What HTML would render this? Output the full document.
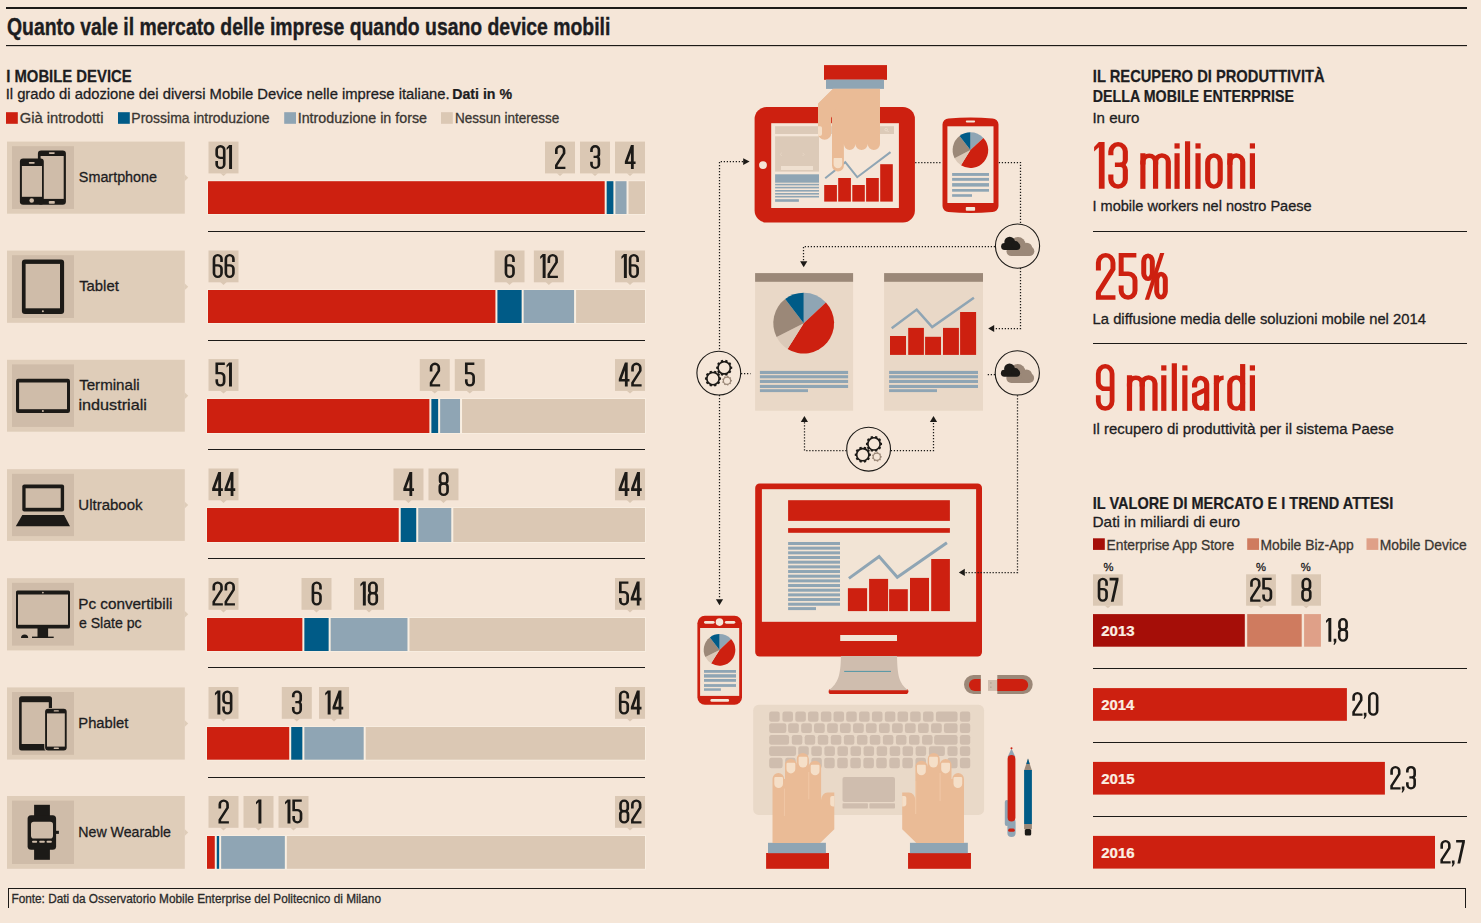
<!DOCTYPE html>
<html><head><meta charset="utf-8"><title>Quanto vale il mercato delle imprese quando usano device mobili</title>
<style>
html,body{margin:0;padding:0;background:#f5e6d8;}
body{width:1481px;height:923px;overflow:hidden;}
svg{display:block;font-family:"Liberation Sans",sans-serif;}
</style></head><body>
<svg width="1481" height="923" viewBox="0 0 1481 923">
<rect width="1481" height="923" fill="#f5e6d8"/>
<rect x="6" y="7" width="1461" height="2" fill="#1c1a17"/>
<text transform="translate(7.02,34.7) scale(0.7986,1)" font-size="24.3" font-weight="bold" fill="#1d1d1f" stroke="#1d1d1f" stroke-width="0.4">Quanto vale il mercato delle imprese quando usano device mobili</text>
<rect x="6" y="45" width="1461" height="1.15" fill="#1c1a17"/>
<text transform="translate(6.2,81.7) scale(0.9014,1)" font-size="16.5" font-weight="bold" fill="#1d1d1f" stroke="#1d1d1f" stroke-width="0.25">I MOBILE DEVICE</text>
<text transform="translate(5.63,99.3) scale(0.9672,1)" font-size="15.3" font-weight="normal" fill="#1d1d1f" stroke="#1d1d1f" stroke-width="0.3">Il grado di adozione dei diversi Mobile Device nelle imprese italiane.</text>
<text transform="translate(452.24,99.3) scale(0.9264,1)" font-size="15.3" font-weight="bold" fill="#1d1d1f" stroke="#1d1d1f" stroke-width="0.25">Dati in %</text>
<rect x="6" y="112.2" width="11.8" height="11.6" fill="#cd2010"/>
<text transform="translate(19.76,122.8) scale(1.0256,1)" font-size="14.4" font-weight="normal" fill="#3a3632" stroke="#3a3632" stroke-width="0.3">Già introdotti</text>
<rect x="118" y="112.2" width="11.8" height="11.6" fill="#005b87"/>
<text transform="translate(131.35,122.8) scale(0.9705,1)" font-size="14.4" font-weight="normal" fill="#3a3632" stroke="#3a3632" stroke-width="0.3">Prossima introduzione</text>
<rect x="284.2" y="112.2" width="11.8" height="11.6" fill="#8fa5b4"/>
<text transform="translate(297.68,122.8) scale(0.9921,1)" font-size="14.4" font-weight="normal" fill="#3a3632" stroke="#3a3632" stroke-width="0.3">Introduzione in forse</text>
<rect x="441" y="112.2" width="11.8" height="11.6" fill="#dbc8b4"/>
<text transform="translate(454.89,122.8) scale(0.9384,1)" font-size="14.4" font-weight="normal" fill="#3a3632" stroke="#3a3632" stroke-width="0.3">Nessun interesse</text>
<rect x="7" y="141.6" width="177.8" height="72.1" fill="#dfcdb9"/>
<polygon points="184.6,174.15 188.2,177.65 184.6,181.15" fill="#dfcdb9"/>
<rect x="12" y="146.2" width="62" height="62.7" fill="#cfbca9"/>
<text transform="translate(78.85,181.9) scale(0.9577,1)" font-size="15" font-weight="normal" fill="#1d1d1f" stroke="#1d1d1f" stroke-width="0.3">Smartphone</text>
<rect x="207.2" y="180.4" width="438.6" height="34.4" fill="#f9efe2"/>
<rect x="208" y="181.2" width="396.67" height="32.8" fill="#cd2010"/>
<rect x="606.67" y="181.2" width="6.74" height="32.8" fill="#005b87"/>
<rect x="615.41" y="181.2" width="11.11" height="32.8" fill="#8fa5b4"/>
<rect x="628.52" y="181.2" width="16.48" height="32.8" fill="#dbc8b4"/>
<rect x="208" y="231" width="437" height="1" fill="#1c1a17"/>
<rect x="208.5" y="141.6" width="30" height="31.8" fill="#dbc8b4"/>
<polygon points="220.3,173.2 226.7,173.2 223.5,176" fill="#dbc8b4"/>
<g transform="translate(215.35,145.1) scale(1.0000,1.0000)"><g transform="translate(0,0)"><g transform="rotate(180 5.1 12)"><g transform="scale(1.15,1)" fill="none" stroke="#1c1a17" stroke-width="2.3" stroke-linejoin="miter" stroke-miterlimit="10"><path d="M7.72,8 V4.93 A3.28,3.78 0 0 0 1.15,4.93 V19.07 A3.28,3.78 0 0 0 7.72,19.07 V14.7 A3.12,3.4 0 0 0 4.6,11.3 H1.15"/></g></g></g><g transform="translate(11.3,0)"><path d="M2.45,0 H5.4 V24 H2.45 V2.7 L0,4.9 V2.6 Z" fill="#1c1a17" fill-rule="evenodd"/></g></g>
<rect x="545" y="141.6" width="30" height="31.8" fill="#dbc8b4"/>
<polygon points="556.8,173.2 563.2,173.2 560,176" fill="#dbc8b4"/>
<g transform="translate(555,145.1) scale(1.0000,1.0000)"><g transform="translate(0,0)"><g transform="scale(1.15,1)" fill="none" stroke="#1c1a17" stroke-width="2.3" stroke-linejoin="miter" stroke-miterlimit="10"><path d="M1.15,8.9 V5.03 A3.37,3.88 0 0 1 7.89,5.03 V8.2 L1.15,20.2 V22.85 H9.04"/></g></g></g>
<rect x="580" y="141.6" width="30" height="31.8" fill="#dbc8b4"/>
<polygon points="591.8,173.2 598.2,173.2 595,176" fill="#dbc8b4"/>
<g transform="translate(590.15,145.1) scale(1.0000,1.0000)"><g transform="translate(0,0)"><g transform="scale(1.15,1)" fill="none" stroke="#1c1a17" stroke-width="2.3" stroke-linejoin="miter" stroke-miterlimit="10"><path d="M1.15,6.8 V4.88 A3.24,3.73 0 0 1 7.63,4.88 V9.1 A2.26,2.6 0 0 1 5.37,11.7 H2.96"/><path d="M5.37,11.7 A2.26,2.6 0 0 1 7.63,14.3 V19.12 A3.24,3.73 0 0 1 1.15,19.12 V16.6"/></g></g></g>
<rect x="615" y="141.6" width="30" height="31.8" fill="#dbc8b4"/>
<polygon points="626.8,173.2 633.2,173.2 630,176" fill="#dbc8b4"/>
<g transform="translate(624.85,145.1) scale(1.0000,1.0000)"><g transform="translate(0,0)"><path d="M6.1,0 H8.9 V16.3 H10.7 V18.9 H8.9 V24 H6.1 V18.9 H0 V16.5 Z M6.1,7.6 V16.3 H2.95 Z" fill="#1c1a17" fill-rule="evenodd"/></g></g>
<rect x="7" y="250.6" width="177.8" height="72.2" fill="#dfcdb9"/>
<polygon points="184.6,283.2 188.2,286.7 184.6,290.2" fill="#dfcdb9"/>
<rect x="12" y="255.2" width="62" height="62.8" fill="#cfbca9"/>
<text transform="translate(79.17,290.7) scale(0.9908,1)" font-size="15" font-weight="normal" fill="#1d1d1f" stroke="#1d1d1f" stroke-width="0.3">Tablet</text>
<rect x="207.2" y="289.2" width="438.6" height="34.6" fill="#f9efe2"/>
<rect x="208" y="290" width="287.42" height="33" fill="#cd2010"/>
<rect x="497.42" y="290" width="24.22" height="33" fill="#005b87"/>
<rect x="523.64" y="290" width="50.44" height="33" fill="#8fa5b4"/>
<rect x="576.08" y="290" width="68.92" height="33" fill="#dbc8b4"/>
<rect x="208" y="340" width="437" height="1" fill="#1c1a17"/>
<rect x="208.5" y="250.5" width="30" height="31.8" fill="#dbc8b4"/>
<polygon points="220.3,282.1 226.7,282.1 223.5,284.9" fill="#dbc8b4"/>
<g transform="translate(212.65,254) scale(1.0000,1.0000)"><g transform="translate(0,0)"><g transform="scale(1.15,1)" fill="none" stroke="#1c1a17" stroke-width="2.3" stroke-linejoin="miter" stroke-miterlimit="10"><path d="M7.72,8 V4.93 A3.28,3.78 0 0 0 1.15,4.93 V19.07 A3.28,3.78 0 0 0 7.72,19.07 V14.7 A3.12,3.4 0 0 0 4.6,11.3 H1.15"/></g></g><g transform="translate(11.9,0)"><g transform="scale(1.15,1)" fill="none" stroke="#1c1a17" stroke-width="2.3" stroke-linejoin="miter" stroke-miterlimit="10"><path d="M7.72,8 V4.93 A3.28,3.78 0 0 0 1.15,4.93 V19.07 A3.28,3.78 0 0 0 7.72,19.07 V14.7 A3.12,3.4 0 0 0 4.6,11.3 H1.15"/></g></g></g>
<rect x="494.53" y="250.5" width="30" height="31.8" fill="#dbc8b4"/>
<polygon points="506.33,282.1 512.73,282.1 509.53,284.9" fill="#dbc8b4"/>
<g transform="translate(504.63,254) scale(1.0000,1.0000)"><g transform="translate(0,0)"><g transform="scale(1.15,1)" fill="none" stroke="#1c1a17" stroke-width="2.3" stroke-linejoin="miter" stroke-miterlimit="10"><path d="M7.72,8 V4.93 A3.28,3.78 0 0 0 1.15,4.93 V19.07 A3.28,3.78 0 0 0 7.72,19.07 V14.7 A3.12,3.4 0 0 0 4.6,11.3 H1.15"/></g></g></g>
<rect x="533.86" y="250.5" width="30" height="31.8" fill="#dbc8b4"/>
<polygon points="545.66,282.1 552.06,282.1 548.86,284.9" fill="#dbc8b4"/>
<g transform="translate(540.21,254) scale(1.0000,1.0000)"><g transform="translate(0,0)"><path d="M2.45,0 H5.4 V24 H2.45 V2.7 L0,4.9 V2.6 Z" fill="#1c1a17" fill-rule="evenodd"/></g><g transform="translate(7.3,0)"><g transform="scale(1.15,1)" fill="none" stroke="#1c1a17" stroke-width="2.3" stroke-linejoin="miter" stroke-miterlimit="10"><path d="M1.15,8.9 V5.03 A3.37,3.88 0 0 1 7.89,5.03 V8.2 L1.15,20.2 V22.85 H9.04"/></g></g></g>
<rect x="615" y="250.5" width="30" height="31.8" fill="#dbc8b4"/>
<polygon points="626.8,282.1 633.2,282.1 630,284.9" fill="#dbc8b4"/>
<g transform="translate(621.45,254) scale(1.0000,1.0000)"><g transform="translate(0,0)"><path d="M2.45,0 H5.4 V24 H2.45 V2.7 L0,4.9 V2.6 Z" fill="#1c1a17" fill-rule="evenodd"/></g><g transform="translate(7.3,0)"><g transform="scale(1.15,1)" fill="none" stroke="#1c1a17" stroke-width="2.3" stroke-linejoin="miter" stroke-miterlimit="10"><path d="M7.72,8 V4.93 A3.28,3.78 0 0 0 1.15,4.93 V19.07 A3.28,3.78 0 0 0 7.72,19.07 V14.7 A3.12,3.4 0 0 0 4.6,11.3 H1.15"/></g></g></g>
<rect x="7" y="359.8" width="177.8" height="71.9" fill="#dfcdb9"/>
<polygon points="184.6,392.25 188.2,395.75 184.6,399.25" fill="#dfcdb9"/>
<rect x="12" y="364.4" width="62" height="62.5" fill="#cfbca9"/>
<text transform="translate(79.16,389.7) scale(1.0087,1)" font-size="15" font-weight="normal" fill="#1d1d1f" stroke="#1d1d1f" stroke-width="0.3">Terminali</text>
<text transform="translate(78.41,409.6) scale(1.0807,1)" font-size="15" font-weight="normal" fill="#1d1d1f" stroke="#1d1d1f" stroke-width="0.3">industriali</text>
<rect x="206.2" y="398.2" width="439.6" height="35.6" fill="#f9efe2"/>
<rect x="207" y="399" width="222.38" height="34" fill="#cd2010"/>
<rect x="431.38" y="399" width="6.76" height="34" fill="#005b87"/>
<rect x="440.14" y="399" width="19.9" height="34" fill="#8fa5b4"/>
<rect x="462.04" y="399" width="182.96" height="34" fill="#dbc8b4"/>
<rect x="208" y="449" width="437" height="1" fill="#1c1a17"/>
<rect x="208.5" y="359.1" width="30" height="31.8" fill="#dbc8b4"/>
<polygon points="220.3,390.7 226.7,390.7 223.5,393.5" fill="#dbc8b4"/>
<g transform="translate(215.45,362.6) scale(1.0000,1.0000)"><g transform="translate(0,0)"><g transform="scale(1.15,1)" fill="none" stroke="#1c1a17" stroke-width="2.3" stroke-linejoin="miter" stroke-miterlimit="10"><path d="M8.17,1.15 H1.15 V10.6 H4.03 A3.2,3.49 0 0 1 7.55,14.09 V19.17 A3.2,3.68 0 0 1 1.15,19.17 V16.6"/></g></g><g transform="translate(11.1,0)"><path d="M2.45,0 H5.4 V24 H2.45 V2.7 L0,4.9 V2.6 Z" fill="#1c1a17" fill-rule="evenodd"/></g></g>
<rect x="419.76" y="359.1" width="30" height="31.8" fill="#dbc8b4"/>
<polygon points="431.56,390.7 437.96,390.7 434.76,393.5" fill="#dbc8b4"/>
<g transform="translate(429.76,362.6) scale(1.0000,1.0000)"><g transform="translate(0,0)"><g transform="scale(1.15,1)" fill="none" stroke="#1c1a17" stroke-width="2.3" stroke-linejoin="miter" stroke-miterlimit="10"><path d="M1.15,8.9 V5.03 A3.37,3.88 0 0 1 7.89,5.03 V8.2 L1.15,20.2 V22.85 H9.04"/></g></g></g>
<rect x="454.76" y="359.1" width="30" height="31.8" fill="#dbc8b4"/>
<polygon points="466.56,390.7 472.96,390.7 469.76,393.5" fill="#dbc8b4"/>
<g transform="translate(464.96,362.6) scale(1.0000,1.0000)"><g transform="translate(0,0)"><g transform="scale(1.15,1)" fill="none" stroke="#1c1a17" stroke-width="2.3" stroke-linejoin="miter" stroke-miterlimit="10"><path d="M8.17,1.15 H1.15 V10.6 H4.03 A3.2,3.49 0 0 1 7.55,14.09 V19.17 A3.2,3.68 0 0 1 1.15,19.17 V16.6"/></g></g></g>
<rect x="615" y="359.1" width="30" height="31.8" fill="#dbc8b4"/>
<polygon points="626.8,390.7 633.2,390.7 630,393.5" fill="#dbc8b4"/>
<g transform="translate(618.8,362.6) scale(1.0000,1.0000)"><g transform="translate(0,0)"><path d="M6.1,0 H8.9 V16.3 H10.7 V18.9 H8.9 V24 H6.1 V18.9 H0 V16.5 Z M6.1,7.6 V16.3 H2.95 Z" fill="#1c1a17" fill-rule="evenodd"/></g><g transform="translate(12.4,0)"><g transform="scale(1.15,1)" fill="none" stroke="#1c1a17" stroke-width="2.3" stroke-linejoin="miter" stroke-miterlimit="10"><path d="M1.15,8.9 V5.03 A3.37,3.88 0 0 1 7.89,5.03 V8.2 L1.15,20.2 V22.85 H9.04"/></g></g></g>
<rect x="7" y="469.2" width="177.8" height="71.7" fill="#dfcdb9"/>
<polygon points="184.6,501.55 188.2,505.05 184.6,508.55" fill="#dfcdb9"/>
<rect x="12" y="473.8" width="62" height="62.3" fill="#cfbca9"/>
<text transform="translate(78.34,509.8) scale(1.0010,1)" font-size="15" font-weight="normal" fill="#1d1d1f" stroke="#1d1d1f" stroke-width="0.3">Ultrabook</text>
<rect x="206.2" y="507.2" width="439.6" height="35.6" fill="#f9efe2"/>
<rect x="207" y="508" width="191.72" height="34" fill="#cd2010"/>
<rect x="400.72" y="508" width="15.52" height="34" fill="#005b87"/>
<rect x="418.24" y="508" width="33.04" height="34" fill="#8fa5b4"/>
<rect x="453.28" y="508" width="191.72" height="34" fill="#dbc8b4"/>
<rect x="208" y="558" width="437" height="1" fill="#1c1a17"/>
<rect x="208.5" y="468.5" width="30" height="31.8" fill="#dbc8b4"/>
<polygon points="220.3,500.1 226.7,500.1 223.5,502.9" fill="#dbc8b4"/>
<g transform="translate(212.15,472) scale(1.0000,1.0000)"><g transform="translate(0,0)"><path d="M6.1,0 H8.9 V16.3 H10.7 V18.9 H8.9 V24 H6.1 V18.9 H0 V16.5 Z M6.1,7.6 V16.3 H2.95 Z" fill="#1c1a17" fill-rule="evenodd"/></g><g transform="translate(12.4,0)"><path d="M6.1,0 H8.9 V16.3 H10.7 V18.9 H8.9 V24 H6.1 V18.9 H0 V16.5 Z M6.1,7.6 V16.3 H2.95 Z" fill="#1c1a17" fill-rule="evenodd"/></g></g>
<rect x="393.48" y="468.5" width="30" height="31.8" fill="#dbc8b4"/>
<polygon points="405.28,500.1 411.68,500.1 408.48,502.9" fill="#dbc8b4"/>
<g transform="translate(403.33,472) scale(1.0000,1.0000)"><g transform="translate(0,0)"><path d="M6.1,0 H8.9 V16.3 H10.7 V18.9 H8.9 V24 H6.1 V18.9 H0 V16.5 Z M6.1,7.6 V16.3 H2.95 Z" fill="#1c1a17" fill-rule="evenodd"/></g></g>
<rect x="428.48" y="468.5" width="30" height="31.8" fill="#dbc8b4"/>
<polygon points="440.28,500.1 446.68,500.1 443.48,502.9" fill="#dbc8b4"/>
<g transform="translate(438.48,472) scale(1.0000,1.0000)"><g transform="translate(0,0)"><g transform="scale(1.15,1)" fill="none" stroke="#1c1a17" stroke-width="2.3" stroke-linejoin="miter" stroke-miterlimit="10"><path d="M1.37,4.78 A3.15,3.63 0 0 1 7.68,4.78 V8.88 A3.15,2.72 0 0 1 1.37,8.88 Z"/><path d="M1.15,14.51 A3.37,2.91 0 0 1 7.89,14.51 V18.97 A3.37,3.88 0 0 1 1.15,18.97 Z"/></g></g></g>
<rect x="615" y="468.5" width="30" height="31.8" fill="#dbc8b4"/>
<polygon points="626.8,500.1 633.2,500.1 630,502.9" fill="#dbc8b4"/>
<g transform="translate(618.65,472) scale(1.0000,1.0000)"><g transform="translate(0,0)"><path d="M6.1,0 H8.9 V16.3 H10.7 V18.9 H8.9 V24 H6.1 V18.9 H0 V16.5 Z M6.1,7.6 V16.3 H2.95 Z" fill="#1c1a17" fill-rule="evenodd"/></g><g transform="translate(12.4,0)"><path d="M6.1,0 H8.9 V16.3 H10.7 V18.9 H8.9 V24 H6.1 V18.9 H0 V16.5 Z M6.1,7.6 V16.3 H2.95 Z" fill="#1c1a17" fill-rule="evenodd"/></g></g>
<rect x="7" y="578.2" width="177.8" height="72.2" fill="#dfcdb9"/>
<polygon points="184.6,610.8 188.2,614.3 184.6,617.8" fill="#dfcdb9"/>
<rect x="12" y="582.8" width="62" height="62.8" fill="#cfbca9"/>
<text transform="translate(78.24,608.9) scale(1.0199,1)" font-size="15" font-weight="normal" fill="#1d1d1f" stroke="#1d1d1f" stroke-width="0.3">Pc convertibili</text>
<text transform="translate(78.9,628.1) scale(0.9412,1)" font-size="15" font-weight="normal" fill="#1d1d1f" stroke="#1d1d1f" stroke-width="0.3">e Slate pc</text>
<rect x="206.2" y="617.2" width="439.6" height="34.6" fill="#f9efe2"/>
<rect x="207" y="618" width="95.36" height="33" fill="#cd2010"/>
<rect x="304.36" y="618" width="24.28" height="33" fill="#005b87"/>
<rect x="330.64" y="618" width="76.84" height="33" fill="#8fa5b4"/>
<rect x="409.48" y="618" width="235.52" height="33" fill="#dbc8b4"/>
<rect x="208" y="667" width="437" height="1" fill="#1c1a17"/>
<rect x="208.5" y="578" width="30" height="31.8" fill="#dbc8b4"/>
<polygon points="220.3,609.6 226.7,609.6 223.5,612.4" fill="#dbc8b4"/>
<g transform="translate(212.45,581.5) scale(1.0000,1.0000)"><g transform="translate(0,0)"><g transform="scale(1.15,1)" fill="none" stroke="#1c1a17" stroke-width="2.3" stroke-linejoin="miter" stroke-miterlimit="10"><path d="M1.15,8.9 V5.03 A3.37,3.88 0 0 1 7.89,5.03 V8.2 L1.15,20.2 V22.85 H9.04"/></g></g><g transform="translate(12.1,0)"><g transform="scale(1.15,1)" fill="none" stroke="#1c1a17" stroke-width="2.3" stroke-linejoin="miter" stroke-miterlimit="10"><path d="M1.15,8.9 V5.03 A3.37,3.88 0 0 1 7.89,5.03 V8.2 L1.15,20.2 V22.85 H9.04"/></g></g></g>
<rect x="301.5" y="578" width="30" height="31.8" fill="#dbc8b4"/>
<polygon points="313.3,609.6 319.7,609.6 316.5,612.4" fill="#dbc8b4"/>
<g transform="translate(311.6,581.5) scale(1.0000,1.0000)"><g transform="translate(0,0)"><g transform="scale(1.15,1)" fill="none" stroke="#1c1a17" stroke-width="2.3" stroke-linejoin="miter" stroke-miterlimit="10"><path d="M7.72,8 V4.93 A3.28,3.78 0 0 0 1.15,4.93 V19.07 A3.28,3.78 0 0 0 7.72,19.07 V14.7 A3.12,3.4 0 0 0 4.6,11.3 H1.15"/></g></g></g>
<rect x="354.06" y="578" width="30" height="31.8" fill="#dbc8b4"/>
<polygon points="365.86,609.6 372.26,609.6 369.06,612.4" fill="#dbc8b4"/>
<g transform="translate(360.41,581.5) scale(1.0000,1.0000)"><g transform="translate(0,0)"><path d="M2.45,0 H5.4 V24 H2.45 V2.7 L0,4.9 V2.6 Z" fill="#1c1a17" fill-rule="evenodd"/></g><g transform="translate(7.3,0)"><g transform="scale(1.15,1)" fill="none" stroke="#1c1a17" stroke-width="2.3" stroke-linejoin="miter" stroke-miterlimit="10"><path d="M1.37,4.78 A3.15,3.63 0 0 1 7.68,4.78 V8.88 A3.15,2.72 0 0 1 1.37,8.88 Z"/><path d="M1.15,14.51 A3.37,2.91 0 0 1 7.89,14.51 V18.97 A3.37,3.88 0 0 1 1.15,18.97 Z"/></g></g></g>
<rect x="615" y="578" width="30" height="31.8" fill="#dbc8b4"/>
<polygon points="626.8,609.6 633.2,609.6 630,612.4" fill="#dbc8b4"/>
<g transform="translate(619,581.5) scale(1.0000,1.0000)"><g transform="translate(0,0)"><g transform="scale(1.15,1)" fill="none" stroke="#1c1a17" stroke-width="2.3" stroke-linejoin="miter" stroke-miterlimit="10"><path d="M8.17,1.15 H1.15 V10.6 H4.03 A3.2,3.49 0 0 1 7.55,14.09 V19.17 A3.2,3.68 0 0 1 1.15,19.17 V16.6"/></g></g><g transform="translate(11.7,0)"><path d="M6.1,0 H8.9 V16.3 H10.7 V18.9 H8.9 V24 H6.1 V18.9 H0 V16.5 Z M6.1,7.6 V16.3 H2.95 Z" fill="#1c1a17" fill-rule="evenodd"/></g></g>
<rect x="7" y="687.4" width="177.8" height="72.2" fill="#dfcdb9"/>
<polygon points="184.6,720 188.2,723.5 184.6,727" fill="#dfcdb9"/>
<rect x="12" y="692" width="62" height="62.8" fill="#cfbca9"/>
<text transform="translate(78.28,727.5) scale(0.9851,1)" font-size="15" font-weight="normal" fill="#1d1d1f" stroke="#1d1d1f" stroke-width="0.3">Phablet</text>
<rect x="206.2" y="726.2" width="439.6" height="34.3" fill="#f9efe2"/>
<rect x="207" y="727" width="82.22" height="32.7" fill="#cd2010"/>
<rect x="291.22" y="727" width="11.14" height="32.7" fill="#005b87"/>
<rect x="304.36" y="727" width="59.32" height="32.7" fill="#8fa5b4"/>
<rect x="365.68" y="727" width="279.32" height="32.7" fill="#dbc8b4"/>
<rect x="208" y="777" width="437" height="1" fill="#1c1a17"/>
<rect x="208.5" y="687" width="30" height="31.8" fill="#dbc8b4"/>
<polygon points="220.3,718.6 226.7,718.6 223.5,721.4" fill="#dbc8b4"/>
<g transform="translate(214.95,690.5) scale(1.0000,1.0000)"><g transform="translate(0,0)"><path d="M2.45,0 H5.4 V24 H2.45 V2.7 L0,4.9 V2.6 Z" fill="#1c1a17" fill-rule="evenodd"/></g><g transform="translate(7.3,0)"><g transform="rotate(180 5.1 12)"><g transform="scale(1.15,1)" fill="none" stroke="#1c1a17" stroke-width="2.3" stroke-linejoin="miter" stroke-miterlimit="10"><path d="M7.72,8 V4.93 A3.28,3.78 0 0 0 1.15,4.93 V19.07 A3.28,3.78 0 0 0 7.72,19.07 V14.7 A3.12,3.4 0 0 0 4.6,11.3 H1.15"/></g></g></g></g>
<rect x="281.79" y="687" width="30" height="31.8" fill="#dbc8b4"/>
<polygon points="293.59,718.6 299.99,718.6 296.79,721.4" fill="#dbc8b4"/>
<g transform="translate(291.94,690.5) scale(1.0000,1.0000)"><g transform="translate(0,0)"><g transform="scale(1.15,1)" fill="none" stroke="#1c1a17" stroke-width="2.3" stroke-linejoin="miter" stroke-miterlimit="10"><path d="M1.15,6.8 V4.88 A3.24,3.73 0 0 1 7.63,4.88 V9.1 A2.26,2.6 0 0 1 5.37,11.7 H2.96"/><path d="M5.37,11.7 A2.26,2.6 0 0 1 7.63,14.3 V19.12 A3.24,3.73 0 0 1 1.15,19.12 V16.6"/></g></g></g>
<rect x="319.02" y="687" width="30" height="31.8" fill="#dbc8b4"/>
<polygon points="330.82,718.6 337.22,718.6 334.02,721.4" fill="#dbc8b4"/>
<g transform="translate(325.22,690.5) scale(1.0000,1.0000)"><g transform="translate(0,0)"><path d="M2.45,0 H5.4 V24 H2.45 V2.7 L0,4.9 V2.6 Z" fill="#1c1a17" fill-rule="evenodd"/></g><g transform="translate(7.3,0)"><path d="M6.1,0 H8.9 V16.3 H10.7 V18.9 H8.9 V24 H6.1 V18.9 H0 V16.5 Z M6.1,7.6 V16.3 H2.95 Z" fill="#1c1a17" fill-rule="evenodd"/></g></g>
<rect x="615" y="687" width="30" height="31.8" fill="#dbc8b4"/>
<polygon points="626.8,718.6 633.2,718.6 630,721.4" fill="#dbc8b4"/>
<g transform="translate(618.9,690.5) scale(1.0000,1.0000)"><g transform="translate(0,0)"><g transform="scale(1.15,1)" fill="none" stroke="#1c1a17" stroke-width="2.3" stroke-linejoin="miter" stroke-miterlimit="10"><path d="M7.72,8 V4.93 A3.28,3.78 0 0 0 1.15,4.93 V19.07 A3.28,3.78 0 0 0 7.72,19.07 V14.7 A3.12,3.4 0 0 0 4.6,11.3 H1.15"/></g></g><g transform="translate(11.9,0)"><path d="M6.1,0 H8.9 V16.3 H10.7 V18.9 H8.9 V24 H6.1 V18.9 H0 V16.5 Z M6.1,7.6 V16.3 H2.95 Z" fill="#1c1a17" fill-rule="evenodd"/></g></g>
<rect x="7" y="796" width="177.8" height="72.8" fill="#dfcdb9"/>
<polygon points="184.6,828.9 188.2,832.4 184.6,835.9" fill="#dfcdb9"/>
<rect x="12" y="800.6" width="62" height="63.4" fill="#cfbca9"/>
<text transform="translate(78.33,836.9) scale(0.9447,1)" font-size="15" font-weight="normal" fill="#1d1d1f" stroke="#1d1d1f" stroke-width="0.3">New Wearable</text>
<rect x="206.2" y="835.2" width="439.6" height="34.4" fill="#f9efe2"/>
<rect x="207" y="836" width="7.76" height="32.8" fill="#cd2010"/>
<rect x="216.76" y="836" width="2.38" height="32.8" fill="#005b87"/>
<rect x="221.14" y="836" width="63.7" height="32.8" fill="#8fa5b4"/>
<rect x="286.84" y="836" width="358.16" height="32.8" fill="#dbc8b4"/>
<rect x="208.5" y="796" width="30" height="31.8" fill="#dbc8b4"/>
<polygon points="220.3,827.6 226.7,827.6 223.5,830.4" fill="#dbc8b4"/>
<g transform="translate(218.5,799.5) scale(1.0000,1.0000)"><g transform="translate(0,0)"><g transform="scale(1.15,1)" fill="none" stroke="#1c1a17" stroke-width="2.3" stroke-linejoin="miter" stroke-miterlimit="10"><path d="M1.15,8.9 V5.03 A3.37,3.88 0 0 1 7.89,5.03 V8.2 L1.15,20.2 V22.85 H9.04"/></g></g></g>
<rect x="243.5" y="796" width="30" height="31.8" fill="#dbc8b4"/>
<polygon points="255.3,827.6 261.7,827.6 258.5,830.4" fill="#dbc8b4"/>
<g transform="translate(256,799.5) scale(1.0000,1.0000)"><g transform="translate(0,0)"><path d="M2.45,0 H5.4 V24 H2.45 V2.7 L0,4.9 V2.6 Z" fill="#1c1a17" fill-rule="evenodd"/></g></g>
<rect x="278.5" y="796" width="30" height="31.8" fill="#dbc8b4"/>
<polygon points="290.3,827.6 296.7,827.6 293.5,830.4" fill="#dbc8b4"/>
<g transform="translate(285.05,799.5) scale(1.0000,1.0000)"><g transform="translate(0,0)"><path d="M2.45,0 H5.4 V24 H2.45 V2.7 L0,4.9 V2.6 Z" fill="#1c1a17" fill-rule="evenodd"/></g><g transform="translate(7.3,0)"><g transform="scale(1.15,1)" fill="none" stroke="#1c1a17" stroke-width="2.3" stroke-linejoin="miter" stroke-miterlimit="10"><path d="M8.17,1.15 H1.15 V10.6 H4.03 A3.2,3.49 0 0 1 7.55,14.09 V19.17 A3.2,3.68 0 0 1 1.15,19.17 V16.6"/></g></g></g>
<rect x="615" y="796" width="30" height="31.8" fill="#dbc8b4"/>
<polygon points="626.8,827.6 633.2,827.6 630,830.4" fill="#dbc8b4"/>
<g transform="translate(618.95,799.5) scale(1.0000,1.0000)"><g transform="translate(0,0)"><g transform="scale(1.15,1)" fill="none" stroke="#1c1a17" stroke-width="2.3" stroke-linejoin="miter" stroke-miterlimit="10"><path d="M1.37,4.78 A3.15,3.63 0 0 1 7.68,4.78 V8.88 A3.15,2.72 0 0 1 1.37,8.88 Z"/><path d="M1.15,14.51 A3.37,2.91 0 0 1 7.89,14.51 V18.97 A3.37,3.88 0 0 1 1.15,18.97 Z"/></g></g><g transform="translate(12.1,0)"><g transform="scale(1.15,1)" fill="none" stroke="#1c1a17" stroke-width="2.3" stroke-linejoin="miter" stroke-miterlimit="10"><path d="M1.15,8.9 V5.03 A3.37,3.88 0 0 1 7.89,5.03 V8.2 L1.15,20.2 V22.85 H9.04"/></g></g></g>
<rect x="37.9" y="150.6" width="28" height="54.2" fill="#1c1a17" rx="3.2"/>
<rect x="40.6" y="156" width="23.1" height="42.9" fill="#cfbca9"/>
<rect x="48.8" y="152.2" width="6" height="1.7" fill="#cfbca9" rx="0.8"/>
<rect x="48.8" y="201" width="6" height="2.8" fill="#cfbca9" rx="0.8"/>
<rect x="19.9" y="158.4" width="23.9" height="46.4" fill="#1c1a17" rx="3.2"/>
<rect x="21.9" y="166" width="20.1" height="30.8" fill="#cfbca9"/>
<circle cx="31.7" cy="200.5" r="2.3" fill="#cfbca9"/>
<rect x="28.8" y="162" width="5.9" height="1.7" fill="#cfbca9" rx="0.8"/>
<rect x="21.9" y="259.6" width="42.2" height="54.4" fill="#1c1a17" rx="3"/>
<rect x="25.6" y="263.9" width="34.4" height="44.4" fill="#cfbca9"/>
<circle cx="42.9" cy="311.2" r="1" fill="#cfbca9"/>
<rect x="16" y="378.8" width="54" height="34.1" fill="#1c1a17" rx="2.2"/>
<rect x="19.1" y="382.5" width="47.9" height="26.7" fill="#cfbca9"/>
<circle cx="42.9" cy="411" r="1" fill="#cfbca9"/>
<rect x="22.3" y="484.4" width="41.8" height="27" fill="#1c1a17" rx="2"/>
<rect x="25.6" y="488.3" width="35.1" height="19.5" fill="#cfbca9"/>
<polygon points="22.3,514.9 64.1,514.9 70,526.2 15.8,526.2" fill="#1c1a17"/>
<rect x="16" y="590.6" width="54" height="37.9" fill="#1c1a17" rx="1.5"/>
<rect x="18" y="594.5" width="50" height="30.3" fill="#cfbca9"/>
<circle cx="42.9" cy="592.6" r="0.9" fill="#cfbca9"/>
<rect x="37.5" y="628" width="10.6" height="9" fill="#1c1a17"/>
<rect x="32" y="636.6" width="21.7" height="1.4" fill="#1c1a17"/>
<path d="M21,638 A3.6,3.5 0 0 1 28.2,638 Z" fill="#1c1a17"/>
<rect x="19.1" y="696.3" width="32.9" height="54.2" fill="#1c1a17" rx="2.5"/>
<rect x="21.7" y="702.2" width="27.1" height="41.8" fill="#cfbca9"/>
<rect x="44.3" y="707.9" width="23.2" height="43.4" fill="#cfbca9" rx="3.6"/>
<rect x="45.1" y="708.7" width="21.6" height="41.8" fill="#1c1a17" rx="3"/>
<rect x="47" y="713.4" width="17.8" height="33.2" fill="#cfbca9"/>
<rect x="53.7" y="710.3" width="5.2" height="1.3" fill="#cfbca9" rx="0.6"/>
<rect x="53.7" y="747.6" width="5.2" height="1.5" fill="#cfbca9" rx="0.6"/>
<rect x="34.1" y="804.8" width="15.8" height="55" fill="#1c1a17"/>
<rect x="27.6" y="815.3" width="28.5" height="34.4" fill="#1c1a17" rx="3.5"/>
<rect x="31" y="821.8" width="22" height="16.8" fill="#cfbca9" rx="2.8"/>
<rect x="56" y="830.8" width="2.9" height="3.1" fill="#1c1a17"/>
<rect x="32" y="840.7" width="5.2" height="2" fill="#cfbca9" rx="1"/>
<rect x="39.2" y="840.7" width="5.7" height="2" fill="#cfbca9" rx="1"/>
<rect x="46.5" y="840.7" width="5.4" height="2" fill="#cfbca9" rx="1"/>
<rect x="8" y="888" width="1458" height="1" fill="#1c1a17"/>
<rect x="8" y="888" width="1" height="20" fill="#1c1a17"/>
<rect x="1465" y="888" width="1" height="20" fill="#1c1a17"/>
<text transform="translate(11.42,902.8) scale(0.9383,1)" font-size="12.6" font-weight="normal" fill="#2a2a2a" stroke="#2a2a2a" stroke-width="0.3">Fonte: Dati da Osservatorio Mobile Enterprise del Politecnico di Milano</text>
<rect x="754.6" y="107" width="160.3" height="115.6" fill="#cd2010" rx="12"/>
<rect x="771.2" y="123.2" width="127.7" height="84.8" fill="#f5e6d8"/>
<circle cx="763" cy="165.1" r="3.9" fill="#f5e6d8"/>
<rect x="775.1" y="126.2" width="118.9" height="7.8" fill="#dccab8"/>
<rect x="775.1" y="136.3" width="43.9" height="35.3" fill="#dccab8"/>
<rect x="781" y="166" width="32" height="4" fill="#efe0d0"/>
<rect x="775.1" y="174.3" width="43.9" height="8.4" fill="#8fa5b4"/>
<rect x="775.1" y="183.8" width="43.9" height="1.6" fill="#8fa5b4"/>
<rect x="775.1" y="186.8" width="43.9" height="1.6" fill="#8fa5b4"/>
<rect x="775.1" y="190" width="43.9" height="1.6" fill="#8fa5b4"/>
<rect x="775.1" y="193" width="43.9" height="1.6" fill="#8fa5b4"/>
<rect x="775.1" y="195.9" width="43.9" height="1.6" fill="#8fa5b4"/>
<rect x="775.1" y="199.2" width="23.8" height="2.6" fill="#8fa5b4"/>
<rect x="824.2" y="185" width="12.7" height="16.6" fill="#cd2010"/>
<rect x="838.2" y="178" width="12.7" height="23.6" fill="#cd2010"/>
<rect x="852.3" y="185" width="12.5" height="16.6" fill="#cd2010"/>
<rect x="866.1" y="178" width="12.7" height="23.6" fill="#cd2010"/>
<rect x="880.2" y="164.2" width="12.6" height="37.4" fill="#cd2010"/>
<polyline points="825.2,178.2 845.3,162.2 857.2,177.2 890.5,152.1" fill="none" stroke="#8fa5b4" stroke-width="2"/>
<rect x="824" y="65.1" width="63" height="14.7" fill="#cd2010"/>
<rect x="826" y="79.6" width="58" height="9.3" fill="#8fa5b4"/>
<path d="M833.2,88.7 L880,88.7 L880,144 A6.15,6 0 0 1 867.7,144 A6.15,6 0 0 1 855.4,144 A5.75,6 0 0 1 843.9,144 L843.9,165.6 A5.95,6 0 0 1 832,165.6 L832,117.5 L826,103.7 L818,103.7 Z" fill="#eabb96"/>
<path d="M818,103.7 L833.2,88.7 L840,100 L831.2,118 L831.2,133.2 A6.6,6.6 0 0 1 818,133.2 Z" fill="#eabb96"/>
<path d="M834.2,158 L841.6,158 Q842.2,158 842.2,159 L842.2,164 A4.2,4.2 0 0 1 833.6,164 L833.6,159 Q833.6,158 834.2,158 Z" fill="#f5dfc8"/>
<path d="M818,126.2 L820.3,126.2 Q822,126.2 822,128 L822,133.5 Q822,136 819.5,136 L818,135.6 Z" fill="#f5dfc8"/>
<circle cx="886.2" cy="129.6" r="1.3" fill="none" stroke="#efe0d0" stroke-width="0.7"/>
<line x1="887.2" y1="130.6" x2="888.6" y2="132" stroke="#efe0d0" stroke-width="0.8"/>
<path d="M781.8,152.8 L780.2,154.4 L781.8,156" fill="none" stroke="#e9d8c7" stroke-width="0.7"/>
<path d="M802.6,152.8 L804.2,154.4 L802.6,156" fill="none" stroke="#e9d8c7" stroke-width="0.7"/>
<path d="M948.5,118.4 Q970.5,116.6 992.5,118.4 A6,6 0 0 1 998.5,124.4 L998.5,206 A6,6 0 0 1 992.5,212 Q970.5,213.8 948.5,212 A6,6 0 0 1 942.5,206 L942.5,124.4 A6,6 0 0 1 948.5,118.4 Z" fill="#cd2010"/>
<rect x="947.4" y="126.3" width="46.1" height="76.7" fill="#f5e6d8"/>
<rect x="965.8" y="120.6" width="9.3" height="1.8" fill="#f5e6d8" rx="0.8"/>
<rect x="965.8" y="207" width="9.3" height="3.8" fill="#f5e6d8" rx="0.8"/>
<path d="M970.4,150.1 L970.4,132.3 A17.8,17.8 0 0 1 983.42,137.96 Z" fill="#8fa5b4"/>
<path d="M970.4,150.1 L983.42,137.96 A17.8,17.8 0 0 1 960.97,165.2 Z" fill="#cd2010"/>
<path d="M970.4,150.1 L960.97,165.2 A17.8,17.8 0 0 1 954.54,158.18 Z" fill="#dbc9b8"/>
<path d="M970.4,150.1 L954.54,158.18 A17.8,17.8 0 0 1 959.54,136 Z" fill="#9b8878"/>
<path d="M970.4,150.1 L959.54,136 A17.8,17.8 0 0 1 970.4,132.3 Z" fill="#005b87"/>
<rect x="952.1" y="173" width="36.9" height="2.9" fill="#8fa5b4"/>
<rect x="952.1" y="177.9" width="36.9" height="2.9" fill="#8fa5b4"/>
<rect x="952.1" y="183.1" width="36.9" height="3.5" fill="#8fa5b4"/>
<rect x="952.1" y="189" width="36.9" height="2.7" fill="#8fa5b4"/>
<rect x="952.1" y="194.2" width="19.9" height="2.6" fill="#8fa5b4"/>
<rect x="755.1" y="273.1" width="98" height="8.8" fill="#9b8878"/>
<rect x="755.1" y="281.9" width="98" height="128.8" fill="#e9d8c7"/>
<rect x="884.1" y="273.1" width="98.9" height="8.8" fill="#9b8878"/>
<rect x="884.1" y="281.9" width="98.9" height="128.8" fill="#e9d8c7"/>
<path d="M803.7,323.2 L803.7,292.8 A30.4,30.4 0 0 1 825.93,302.47 Z" fill="#8fa5b4"/>
<path d="M803.7,323.2 L825.93,302.47 A30.4,30.4 0 0 1 787.59,348.98 Z" fill="#cd2010"/>
<path d="M803.7,323.2 L787.59,348.98 A30.4,30.4 0 0 1 776.61,337 Z" fill="#dbc9b8"/>
<path d="M803.7,323.2 L776.61,337 A30.4,30.4 0 0 1 785.15,299.11 Z" fill="#9b8878"/>
<path d="M803.7,323.2 L785.15,299.11 A30.4,30.4 0 0 1 803.7,292.8 Z" fill="#005b87"/>
<rect x="759.9" y="370.9" width="88.2" height="3.1" fill="#8fa5b4"/>
<rect x="889.1" y="370.9" width="88.9" height="3.1" fill="#8fa5b4"/>
<rect x="759.9" y="375.2" width="88.2" height="3.1" fill="#8fa5b4"/>
<rect x="889.1" y="375.2" width="88.9" height="3.1" fill="#8fa5b4"/>
<rect x="759.9" y="379.9" width="88.2" height="3.1" fill="#8fa5b4"/>
<rect x="889.1" y="379.9" width="88.9" height="3.1" fill="#8fa5b4"/>
<rect x="759.9" y="384.9" width="88.2" height="3.1" fill="#8fa5b4"/>
<rect x="889.1" y="384.9" width="88.9" height="3.1" fill="#8fa5b4"/>
<rect x="759.9" y="389.2" width="48.1" height="2.9" fill="#8fa5b4"/>
<rect x="889.1" y="389.2" width="47.9" height="2.9" fill="#8fa5b4"/>
<rect x="890" y="336" width="16" height="18.9" fill="#cd2010"/>
<rect x="908.2" y="327.9" width="15.7" height="27" fill="#cd2010"/>
<rect x="925.1" y="336.8" width="15.9" height="18.1" fill="#cd2010"/>
<rect x="943" y="327.9" width="15.9" height="27" fill="#cd2010"/>
<rect x="960.1" y="312" width="16" height="42.9" fill="#cd2010"/>
<polyline points="891.7,328.2 916.7,309.6 932.2,327 973.9,297.7" fill="none" stroke="#8fa5b4" stroke-width="2.5"/>
<rect x="755.2" y="483.5" width="226.8" height="173" fill="#cd2010" rx="4.5"/>
<rect x="761.9" y="489.2" width="214.2" height="132.6" fill="#f2e4d5"/>
<rect x="840.2" y="635" width="56.8" height="6" fill="#f2e4d5"/>
<rect x="788.1" y="500.2" width="161.8" height="20.7" fill="#cd2010"/>
<rect x="788.1" y="528.1" width="161.8" height="4.7" fill="#cd2010"/>
<rect x="788.1" y="542" width="51.9" height="3" fill="#8fa5b4"/>
<rect x="788.1" y="546.67" width="51.9" height="3" fill="#8fa5b4"/>
<rect x="788.1" y="551.34" width="51.9" height="3" fill="#8fa5b4"/>
<rect x="788.1" y="556.01" width="51.9" height="3" fill="#8fa5b4"/>
<rect x="788.1" y="560.68" width="51.9" height="3" fill="#8fa5b4"/>
<rect x="788.1" y="565.35" width="51.9" height="3" fill="#8fa5b4"/>
<rect x="788.1" y="570.02" width="51.9" height="3" fill="#8fa5b4"/>
<rect x="788.1" y="574.69" width="51.9" height="3" fill="#8fa5b4"/>
<rect x="788.1" y="579.36" width="51.9" height="3" fill="#8fa5b4"/>
<rect x="788.1" y="584.03" width="51.9" height="3" fill="#8fa5b4"/>
<rect x="788.1" y="588.7" width="51.9" height="3" fill="#8fa5b4"/>
<rect x="788.1" y="593.37" width="51.9" height="3" fill="#8fa5b4"/>
<rect x="788.1" y="598.04" width="51.9" height="3" fill="#8fa5b4"/>
<rect x="788.1" y="602.71" width="51.9" height="3" fill="#8fa5b4"/>
<rect x="788.1" y="607.1" width="27.9" height="3" fill="#8fa5b4"/>
<rect x="847.9" y="588.2" width="19.2" height="22.9" fill="#cd2010"/>
<rect x="869.1" y="578.9" width="19" height="32.2" fill="#cd2010"/>
<rect x="889.1" y="589.2" width="18.7" height="21.9" fill="#cd2010"/>
<rect x="910" y="577.9" width="19" height="33.2" fill="#cd2010"/>
<rect x="931.2" y="559" width="18.7" height="52.1" fill="#cd2010"/>
<polyline points="848.9,578.4 879.1,556.5 897.3,577.2 946.9,542.8" fill="none" stroke="#8fa5b4" stroke-width="3"/>
<path d="M829.6,693.9 A3,3 0 0 1 828.8,690.5 L829,689.4 L907.8,689.4 A3,3 0 0 1 907,693.9 Z" fill="#cd2010"/>
<path d="M841,656 L897,656 C897.5,676 899,683 908,690.2 L829,690.2 C838,683 840.5,676 841,656 Z" fill="#cfbdae"/>
<line x1="844.2" y1="671.4" x2="891" y2="671.4" stroke="#2f8aa3" stroke-width="0.8"/>
<rect x="697.4" y="615.8" width="44.6" height="89" fill="#cd2010" rx="7.5"/>
<rect x="700.1" y="628" width="39.1" height="67.9" fill="#f2e4d5"/>
<circle cx="719.5" cy="622.1" r="3.8" fill="#f5e6d8"/>
<rect x="704" y="620.9" width="10.6" height="2.8" fill="#f5e6d8" rx="1.4"/>
<rect x="724.9" y="620.9" width="10.4" height="2.8" fill="#f5e6d8" rx="1.4"/>
<rect x="710.4" y="699.1" width="18.7" height="2.6" fill="#f5e6d8" rx="1.3"/>
<path d="M719.5,649.9 L719.5,634.1 A15.8,15.8 0 0 1 731.06,639.12 Z" fill="#8fa5b4"/>
<path d="M719.5,649.9 L731.06,639.12 A15.8,15.8 0 0 1 711.13,663.3 Z" fill="#cd2010"/>
<path d="M719.5,649.9 L711.13,663.3 A15.8,15.8 0 0 1 705.42,657.07 Z" fill="#dbc9b8"/>
<path d="M719.5,649.9 L705.42,657.07 A15.8,15.8 0 0 1 709.86,637.38 Z" fill="#9b8878"/>
<path d="M719.5,649.9 L709.86,637.38 A15.8,15.8 0 0 1 719.5,634.1 Z" fill="#005b87"/>
<rect x="704" y="670" width="32" height="2.8" fill="#8fa5b4"/>
<rect x="704" y="674.2" width="32" height="3.4" fill="#8fa5b4"/>
<rect x="704" y="679" width="32" height="2.8" fill="#8fa5b4"/>
<rect x="704" y="684.1" width="32" height="2.8" fill="#8fa5b4"/>
<rect x="704" y="688.3" width="16.9" height="2.5" fill="#8fa5b4"/>
<path d="M980.9,675 L973.5,675 A9.5,9.5 0 0 0 973.5,694 L980.9,694 Z" fill="#9b8878"/>
<path d="M980.5,678.9 L974.9,678.9 A6,6 0 0 0 974.9,690.9 L980.5,690.9 Z" fill="#cd2010"/>
<rect x="988" y="680" width="9.6" height="10.9" fill="#cfbdae"/>
<rect x="990" y="682.4" width="1.6" height="1.2" fill="#b3a294"/>
<rect x="990" y="686.6" width="1.6" height="1.2" fill="#b3a294"/>
<path d="M997.3,675 L1023.2,675 A9.5,9.5 0 0 1 1023.2,694 L997.3,694 Z" fill="#9b8878"/>
<path d="M997.3,678.9 L1022.2,678.9 A6,6 0 0 1 1022.2,690.9 L997.3,690.9 Z" fill="#cd2010"/>
<rect x="1004.8" y="800" width="4.2" height="26" fill="#8fa5b4" rx="2"/>
<path d="M1007.6,757 L1011.5,748.5 L1015.4,757 Z" fill="#8fa5b4"/>
<circle cx="1011.5" cy="748.2" r="1" fill="#cd2010"/>
<rect x="1007.4" y="818" width="8.2" height="19" fill="#8fa5b4" rx="4.1"/>
<rect x="1007.6" y="755" width="7.8" height="66.5" fill="#cd2010" rx="3.9"/>
<rect x="1008.2" y="828.6" width="6.6" height="3.2" fill="#cd2010" rx="1.6"/>
<path d="M1024.1,770.5 L1028,758.4 L1031.9,770.5 Z" fill="#9b8878"/>
<path d="M1026.3,764 L1028,758.4 L1029.7,764 Z" fill="#005b87"/>
<rect x="1024.1" y="770" width="7.8" height="54.2" fill="#005b87"/>
<rect x="1024.1" y="824" width="7.8" height="5.3" fill="#9b8878"/>
<rect x="1024.8" y="829.1" width="6.4" height="6.3" fill="#1c1a17" rx="1.5"/>
<rect x="753.2" y="704.8" width="230.9" height="110.1" fill="#e9d9c8" rx="5.5"/>
<rect x="769.18" y="711.58" width="10.53" height="10.14" fill="#cfbdae" rx="2.2"/>
<rect x="782.44" y="711.58" width="10.53" height="10.14" fill="#cfbdae" rx="2.2"/>
<rect x="795.31" y="711.58" width="10.53" height="10.14" fill="#cfbdae" rx="2.2"/>
<rect x="807.99" y="711.58" width="10.53" height="10.14" fill="#cfbdae" rx="2.2"/>
<rect x="820.86" y="711.58" width="10.53" height="10.14" fill="#cfbdae" rx="2.2"/>
<rect x="833.53" y="711.58" width="10.53" height="10.14" fill="#cfbdae" rx="2.2"/>
<rect x="846.21" y="711.58" width="10.53" height="10.14" fill="#cfbdae" rx="2.2"/>
<rect x="859.08" y="711.58" width="10.53" height="10.14" fill="#cfbdae" rx="2.2"/>
<rect x="871.95" y="711.58" width="10.53" height="10.14" fill="#cfbdae" rx="2.2"/>
<rect x="884.82" y="711.58" width="10.53" height="10.14" fill="#cfbdae" rx="2.2"/>
<rect x="897.5" y="711.58" width="10.53" height="10.14" fill="#cfbdae" rx="2.2"/>
<rect x="910.17" y="711.58" width="10.53" height="10.14" fill="#cfbdae" rx="2.2"/>
<rect x="923.04" y="711.58" width="10.53" height="10.14" fill="#cfbdae" rx="2.2"/>
<rect x="935.91" y="711.58" width="21.65" height="10.14" fill="#cfbdae" rx="2.2"/>
<rect x="959.9" y="711.58" width="10.34" height="10.14" fill="#cfbdae" rx="2.2"/>
<rect x="769.18" y="723.28" width="17.16" height="9.75" fill="#cfbdae" rx="2.2"/>
<rect x="788.1" y="723.28" width="10.73" height="9.75" fill="#cfbdae" rx="2.2"/>
<rect x="801.16" y="723.28" width="10.73" height="9.75" fill="#cfbdae" rx="2.2"/>
<rect x="814.03" y="723.28" width="10.73" height="9.75" fill="#cfbdae" rx="2.2"/>
<rect x="827.1" y="723.28" width="10.73" height="9.75" fill="#cfbdae" rx="2.2"/>
<rect x="839.97" y="723.28" width="10.73" height="9.75" fill="#cfbdae" rx="2.2"/>
<rect x="853.03" y="723.28" width="10.73" height="9.75" fill="#cfbdae" rx="2.2"/>
<rect x="865.9" y="723.28" width="10.73" height="9.75" fill="#cfbdae" rx="2.2"/>
<rect x="878.97" y="723.28" width="10.73" height="9.75" fill="#cfbdae" rx="2.2"/>
<rect x="892.04" y="723.28" width="10.73" height="9.75" fill="#cfbdae" rx="2.2"/>
<rect x="904.91" y="723.28" width="10.73" height="9.75" fill="#cfbdae" rx="2.2"/>
<rect x="917.97" y="723.28" width="10.73" height="9.75" fill="#cfbdae" rx="2.2"/>
<rect x="931.04" y="723.28" width="10.73" height="9.75" fill="#cfbdae" rx="2.2"/>
<rect x="943.91" y="723.28" width="13.65" height="9.75" fill="#cfbdae" rx="2.2"/>
<rect x="959.9" y="723.28" width="10.34" height="9.75" fill="#cfbdae" rx="2.2"/>
<rect x="769.18" y="734.98" width="19.89" height="9.75" fill="#cfbdae" rx="2.2"/>
<rect x="791.8" y="734.98" width="10.53" height="9.75" fill="#cfbdae" rx="2.2"/>
<rect x="804.67" y="734.98" width="10.53" height="9.75" fill="#cfbdae" rx="2.2"/>
<rect x="817.74" y="734.98" width="10.53" height="9.75" fill="#cfbdae" rx="2.2"/>
<rect x="830.8" y="734.98" width="10.53" height="9.75" fill="#cfbdae" rx="2.2"/>
<rect x="843.87" y="734.98" width="10.53" height="9.75" fill="#cfbdae" rx="2.2"/>
<rect x="856.93" y="734.98" width="10.53" height="9.75" fill="#cfbdae" rx="2.2"/>
<rect x="869.8" y="734.98" width="10.53" height="9.75" fill="#cfbdae" rx="2.2"/>
<rect x="882.87" y="734.98" width="10.53" height="9.75" fill="#cfbdae" rx="2.2"/>
<rect x="895.94" y="734.98" width="10.53" height="9.75" fill="#cfbdae" rx="2.2"/>
<rect x="909" y="734.98" width="10.53" height="9.75" fill="#cfbdae" rx="2.2"/>
<rect x="922.07" y="734.98" width="10.53" height="9.75" fill="#cfbdae" rx="2.2"/>
<rect x="934.16" y="734.98" width="23.4" height="9.75" fill="#cfbdae" rx="2.2"/>
<rect x="959.9" y="734.98" width="10.34" height="9.75" fill="#cfbdae" rx="2.2"/>
<rect x="769.18" y="746.29" width="26.91" height="9.75" fill="#cfbdae" rx="2.2"/>
<rect x="798.24" y="746.29" width="10.53" height="9.75" fill="#cfbdae" rx="2.2"/>
<rect x="811.3" y="746.29" width="10.53" height="9.75" fill="#cfbdae" rx="2.2"/>
<rect x="824.37" y="746.29" width="10.53" height="9.75" fill="#cfbdae" rx="2.2"/>
<rect x="837.43" y="746.29" width="10.53" height="9.75" fill="#cfbdae" rx="2.2"/>
<rect x="850.5" y="746.29" width="10.53" height="9.75" fill="#cfbdae" rx="2.2"/>
<rect x="863.56" y="746.29" width="10.53" height="9.75" fill="#cfbdae" rx="2.2"/>
<rect x="876.63" y="746.29" width="10.53" height="9.75" fill="#cfbdae" rx="2.2"/>
<rect x="889.7" y="746.29" width="10.53" height="9.75" fill="#cfbdae" rx="2.2"/>
<rect x="902.57" y="746.29" width="10.53" height="9.75" fill="#cfbdae" rx="2.2"/>
<rect x="915.63" y="746.29" width="10.53" height="9.75" fill="#cfbdae" rx="2.2"/>
<rect x="928.89" y="746.29" width="15.99" height="9.75" fill="#cfbdae" rx="2.2"/>
<rect x="947.42" y="746.29" width="10.14" height="9.75" fill="#cfbdae" rx="2.2"/>
<rect x="959.9" y="746.29" width="10.34" height="9.75" fill="#cfbdae" rx="2.2"/>
<rect x="769.18" y="757.79" width="13.46" height="10.34" fill="#cfbdae" rx="2.2"/>
<rect x="785.17" y="757.79" width="10.53" height="10.34" fill="#cfbdae" rx="2.2"/>
<rect x="798.24" y="757.79" width="10.53" height="10.34" fill="#cfbdae" rx="2.2"/>
<rect x="811.3" y="757.79" width="10.53" height="10.34" fill="#cfbdae" rx="2.2"/>
<rect x="824.17" y="757.79" width="10.53" height="10.34" fill="#cfbdae" rx="2.2"/>
<rect x="837.24" y="757.79" width="10.53" height="10.34" fill="#cfbdae" rx="2.2"/>
<rect x="850.3" y="757.79" width="10.53" height="10.34" fill="#cfbdae" rx="2.2"/>
<rect x="863.37" y="757.79" width="10.53" height="10.34" fill="#cfbdae" rx="2.2"/>
<rect x="876.24" y="757.79" width="10.53" height="10.34" fill="#cfbdae" rx="2.2"/>
<rect x="889.31" y="757.79" width="10.53" height="10.34" fill="#cfbdae" rx="2.2"/>
<rect x="902.37" y="757.79" width="10.53" height="10.34" fill="#cfbdae" rx="2.2"/>
<rect x="915.44" y="757.79" width="10.53" height="10.34" fill="#cfbdae" rx="2.2"/>
<rect x="928.5" y="757.79" width="10.53" height="10.34" fill="#cfbdae" rx="2.2"/>
<rect x="947.42" y="757.79" width="10.14" height="10.34" fill="#cfbdae" rx="2.2"/>
<rect x="959.9" y="757.79" width="10.34" height="10.34" fill="#cfbdae" rx="2.2"/>
<rect x="842.5" y="777.1" width="52.5" height="24.8" fill="#cfbdae" rx="2"/>
<rect x="842.5" y="803.2" width="25.4" height="5.3" fill="#cfbdae" rx="0.8"/>
<rect x="869.4" y="803.2" width="25.6" height="5.3" fill="#cfbdae" rx="0.8"/>
<rect x="766.1" y="853" width="62.9" height="15.8" fill="#cd2010"/>
<rect x="768" y="842.8" width="57.9" height="10.4" fill="#8fa5b4"/>
<g>
<path d="M772.5,842.9 L772.5,778.9 A5.85,5.9 0 0 1 784.2,778.9 L785,778.9 L785,764.9 A5.85,5.9 0 0 1 796.7,764.9 L796.7,759 A6.05,6.1 0 0 1 808.8,759 L808.8,766.8 A6.15,6.1 0 0 1 821.1,766.8 L821.1,800.3 A6.5,7.8 0 0 1 827.6,792.5 L834.3,792.5 L834.3,829.2 L820.1,842.9 Z" fill="#eabb96"/>
<path d="M775.5,776.9 L781.8,776.9 Q783,776.9 783,778.1 L783,783.65 A4.35,4.35 0 0 1 774.3,783.65 L774.3,778.1 Q774.3,776.9 775.5,776.9 Z" fill="#f5dfc8"/>
<path d="M787.7,762.7 L794.1,762.7 Q795.3,762.7 795.3,763.9 L795.3,769 A4.4,4.4 0 0 1 786.5,769 L786.5,763.9 Q786.5,762.7 787.7,762.7 Z" fill="#f5dfc8"/>
<path d="M799.8,756.8 L806.2,756.8 Q807.4,756.8 807.4,758 L807.4,763.1 A4.4,4.4 0 0 1 798.6,763.1 L798.6,758 Q798.6,756.8 799.8,756.8 Z" fill="#f5dfc8"/>
<path d="M811.9,764.8 L818.3,764.8 Q819.5,764.8 819.5,766 L819.5,770.9 A4.4,4.4 0 0 1 810.7,770.9 L810.7,766 Q810.7,764.8 811.9,764.8 Z" fill="#f5dfc8"/>
<path d="M834.3,796 L832.2,796 A2,2 0 0 0 830.2,798 L830.2,803.5 A3,3 0 0 0 833.2,806.5 L834.3,806.5 Z" fill="#f5dfc8"/>
</g>
<line x1="784.4" y1="788.6" x2="784.4" y2="815.9" stroke="#f2cbab" stroke-width="0.8"/>
<line x1="808.8" y1="772" x2="808.8" y2="799.3" stroke="#f2cbab" stroke-width="0.8"/>
<rect x="908.05" y="853" width="62.9" height="15.8" fill="#cd2010"/>
<rect x="909.95" y="842.8" width="57.9" height="10.4" fill="#8fa5b4"/>
<g transform="translate(1736.5,0) scale(-1,1)">
<path d="M772.5,842.9 L772.5,778.9 A5.85,5.9 0 0 1 784.2,778.9 L785,778.9 L785,764.9 A5.85,5.9 0 0 1 796.7,764.9 L796.7,759 A6.05,6.1 0 0 1 808.8,759 L808.8,766.8 A6.15,6.1 0 0 1 821.1,766.8 L821.1,800.3 A6.5,7.8 0 0 1 827.6,792.5 L834.3,792.5 L834.3,829.2 L820.1,842.9 Z" fill="#eabb96"/>
<path d="M775.5,776.9 L781.8,776.9 Q783,776.9 783,778.1 L783,783.65 A4.35,4.35 0 0 1 774.3,783.65 L774.3,778.1 Q774.3,776.9 775.5,776.9 Z" fill="#f5dfc8"/>
<path d="M787.7,762.7 L794.1,762.7 Q795.3,762.7 795.3,763.9 L795.3,769 A4.4,4.4 0 0 1 786.5,769 L786.5,763.9 Q786.5,762.7 787.7,762.7 Z" fill="#f5dfc8"/>
<path d="M799.8,756.8 L806.2,756.8 Q807.4,756.8 807.4,758 L807.4,763.1 A4.4,4.4 0 0 1 798.6,763.1 L798.6,758 Q798.6,756.8 799.8,756.8 Z" fill="#f5dfc8"/>
<path d="M811.9,764.8 L818.3,764.8 Q819.5,764.8 819.5,766 L819.5,770.9 A4.4,4.4 0 0 1 810.7,770.9 L810.7,766 Q810.7,764.8 811.9,764.8 Z" fill="#f5dfc8"/>
<path d="M834.3,796 L832.2,796 A2,2 0 0 0 830.2,798 L830.2,803.5 A3,3 0 0 0 833.2,806.5 L834.3,806.5 Z" fill="#f5dfc8"/>
</g>
<line x1="915.7" y1="781" x2="915.7" y2="814" stroke="#f2cbab" stroke-width="0.8"/>
<line x1="940.1" y1="773" x2="940.1" y2="801" stroke="#f2cbab" stroke-width="0.8"/>
<path d="M743,161.5 L719.5,161.5 L719.5,351" fill="none" stroke="#1c1a17" stroke-width="1.25" stroke-dasharray="1.25 1.75"/>
<polygon points="749.6,161.6 743.2,158.2 743.2,165" fill="#1c1a17"/>
<path d="M719.5,395 L719.5,599" fill="none" stroke="#1c1a17" stroke-width="1.25" stroke-dasharray="1.25 1.75"/>
<polygon points="719.5,605.2 715.9,599.2 723.1,599.2" fill="#1c1a17"/>
<path d="M741,373.5 L750.5,373.5" fill="none" stroke="#1c1a17" stroke-width="1.25" stroke-dasharray="1.25 1.75"/>
<path d="M915.2,162.5 L942,162.5" fill="none" stroke="#1c1a17" stroke-width="1.25" stroke-dasharray="1.25 1.75"/>
<path d="M998.8,162.5 L1020.5,162.5 L1020.5,224" fill="none" stroke="#1c1a17" stroke-width="1.25" stroke-dasharray="1.25 1.75"/>
<path d="M995,246.5 L803.5,246.5 L803.5,261" fill="none" stroke="#1c1a17" stroke-width="1.25" stroke-dasharray="1.25 1.75"/>
<polygon points="803.7,267.3 800.1,261.3 807.3,261.3" fill="#1c1a17"/>
<path d="M1020.5,268 L1020.5,328.5 L994.5,328.5" fill="none" stroke="#1c1a17" stroke-width="1.25" stroke-dasharray="1.25 1.75"/>
<polygon points="988.2,328.5 994.2,324.9 994.2,332.1" fill="#1c1a17"/>
<path d="M995,374.5 L986.5,374.5" fill="none" stroke="#1c1a17" stroke-width="1.25" stroke-dasharray="1.25 1.75"/>
<path d="M1017.5,395.2 L1017.5,572.5 L965,572.5" fill="none" stroke="#1c1a17" stroke-width="1.25" stroke-dasharray="1.25 1.75"/>
<polygon points="958.8,572.4 964.8,568.8 964.8,576" fill="#1c1a17"/>
<path d="M846.5,450.5 L804.5,450.5 L804.5,422.3" fill="none" stroke="#1c1a17" stroke-width="1.25" stroke-dasharray="1.25 1.75"/>
<polygon points="804.4,416.1 800.8,422.1 808,422.1" fill="#1c1a17"/>
<path d="M890.8,450.5 L933.5,450.5 L933.5,422.3" fill="none" stroke="#1c1a17" stroke-width="1.25" stroke-dasharray="1.25 1.75"/>
<polygon points="933.5,416.1 929.9,422.1 937.1,422.1" fill="#1c1a17"/>
<circle cx="718.8" cy="373.1" r="21.9" fill="none" stroke="#1c1a17" stroke-width="1.1"/>
<path d="M731.04,366.49 L732.24,366.78 L732.24,368.82 L731.04,369.11 L730.5,370.77 L731.3,371.7 L730.1,373.34 L728.97,372.88 L727.56,373.9 L727.65,375.13 L725.72,375.76 L725.07,374.71 L723.33,374.71 L722.68,375.76 L720.75,375.13 L720.84,373.9 L719.43,372.88 L718.3,373.34 L717.1,371.7 L717.9,370.77 L717.36,369.11 L716.16,368.82 L716.16,366.78 L717.36,366.49 L717.9,364.83 L717.1,363.9 L718.3,362.26 L719.43,362.72 L720.84,361.7 L720.75,360.47 L722.68,359.84 L723.33,360.89 L725.07,360.89 L725.72,359.84 L727.65,360.47 L727.56,361.7 L728.97,362.72 L730.1,362.26 L731.3,363.9 L730.5,364.83 Z M718.9,367.8 A5.3,5.3 0 1 0 729.5,367.8 A5.3,5.3 0 1 0 718.9,367.8 Z" fill="#1c1a17" fill-rule="evenodd"/>
<path d="M719.84,377.29 L721.04,377.58 L721.04,379.62 L719.84,379.91 L719.3,381.57 L720.1,382.5 L718.9,384.14 L717.77,383.68 L716.36,384.7 L716.45,385.93 L714.52,386.56 L713.87,385.51 L712.13,385.51 L711.48,386.56 L709.55,385.93 L709.64,384.7 L708.23,383.68 L707.1,384.14 L705.9,382.5 L706.7,381.57 L706.16,379.91 L704.96,379.62 L704.96,377.58 L706.16,377.29 L706.7,375.63 L705.9,374.7 L707.1,373.06 L708.23,373.52 L709.64,372.5 L709.55,371.27 L711.48,370.64 L712.13,371.69 L713.87,371.69 L714.52,370.64 L716.45,371.27 L716.36,372.5 L717.77,373.52 L718.9,373.06 L720.1,374.7 L719.3,375.63 Z M707.7,378.6 A5.3,5.3 0 1 0 718.3,378.6 A5.3,5.3 0 1 0 707.7,378.6 Z" fill="#1c1a17" fill-rule="evenodd"/>
<path d="M731.12,379.82 L731.85,380.02 L731.85,381.38 L731.12,381.58 L730.72,382.68 L731.16,383.3 L730.28,384.34 L729.59,384.02 L728.58,384.61 L728.51,385.36 L727.17,385.6 L726.85,384.91 L725.7,384.71 L725.16,385.24 L723.98,384.56 L724.18,383.83 L723.43,382.93 L722.67,383 L722.21,381.72 L722.83,381.29 L722.83,380.11 L722.21,379.68 L722.67,378.4 L723.43,378.47 L724.18,377.57 L723.98,376.84 L725.16,376.16 L725.7,376.69 L726.85,376.49 L727.17,375.8 L728.51,376.04 L728.58,376.79 L729.59,377.38 L730.28,377.06 L731.16,378.1 L730.72,378.72 Z M724,380.7 A3,3 0 1 0 730,380.7 A3,3 0 1 0 724,380.7 Z" fill="#9b8878" fill-rule="evenodd"/>
<circle cx="868.6" cy="449.2" r="21.9" fill="none" stroke="#1c1a17" stroke-width="1.1"/>
<path d="M880.84,442.59 L882.04,442.88 L882.04,444.92 L880.84,445.21 L880.3,446.87 L881.1,447.8 L879.9,449.44 L878.77,448.98 L877.36,450 L877.45,451.23 L875.52,451.86 L874.87,450.81 L873.13,450.81 L872.48,451.86 L870.55,451.23 L870.64,450 L869.23,448.98 L868.1,449.44 L866.9,447.8 L867.7,446.87 L867.16,445.21 L865.96,444.92 L865.96,442.88 L867.16,442.59 L867.7,440.93 L866.9,440 L868.1,438.36 L869.23,438.82 L870.64,437.8 L870.55,436.57 L872.48,435.94 L873.13,436.99 L874.87,436.99 L875.52,435.94 L877.45,436.57 L877.36,437.8 L878.77,438.82 L879.9,438.36 L881.1,440 L880.3,440.93 Z M868.7,443.9 A5.3,5.3 0 1 0 879.3,443.9 A5.3,5.3 0 1 0 868.7,443.9 Z" fill="#1c1a17" fill-rule="evenodd"/>
<path d="M869.64,453.39 L870.84,453.68 L870.84,455.72 L869.64,456.01 L869.1,457.67 L869.9,458.6 L868.7,460.24 L867.57,459.78 L866.16,460.8 L866.25,462.03 L864.32,462.66 L863.67,461.61 L861.93,461.61 L861.28,462.66 L859.35,462.03 L859.44,460.8 L858.03,459.78 L856.9,460.24 L855.7,458.6 L856.5,457.67 L855.96,456.01 L854.76,455.72 L854.76,453.68 L855.96,453.39 L856.5,451.73 L855.7,450.8 L856.9,449.16 L858.03,449.62 L859.44,448.6 L859.35,447.37 L861.28,446.74 L861.93,447.79 L863.67,447.79 L864.32,446.74 L866.25,447.37 L866.16,448.6 L867.57,449.62 L868.7,449.16 L869.9,450.8 L869.1,451.73 Z M857.5,454.7 A5.3,5.3 0 1 0 868.1,454.7 A5.3,5.3 0 1 0 857.5,454.7 Z" fill="#1c1a17" fill-rule="evenodd"/>
<path d="M880.92,455.92 L881.65,456.12 L881.65,457.48 L880.92,457.68 L880.52,458.78 L880.96,459.4 L880.08,460.44 L879.39,460.12 L878.38,460.71 L878.31,461.46 L876.97,461.7 L876.65,461.01 L875.5,460.81 L874.96,461.34 L873.78,460.66 L873.98,459.93 L873.23,459.03 L872.47,459.1 L872.01,457.82 L872.63,457.39 L872.63,456.21 L872.01,455.78 L872.47,454.5 L873.23,454.57 L873.98,453.67 L873.78,452.94 L874.96,452.26 L875.5,452.79 L876.65,452.59 L876.97,451.9 L878.31,452.14 L878.38,452.89 L879.39,453.48 L880.08,453.16 L880.96,454.2 L880.52,454.82 Z M873.8,456.8 A3,3 0 1 0 879.8,456.8 A3,3 0 1 0 873.8,456.8 Z" fill="#9b8878" fill-rule="evenodd"/>
<circle cx="1017.5" cy="246.1" r="22.1" fill="none" stroke="#1c1a17" stroke-width="1.1"/>
<rect x="1006.5" y="246.3" width="27.8" height="9.8" fill="#9b8878" rx="4.9"/>
<circle cx="1018" cy="244.7" r="7.6" fill="#9b8878"/>
<circle cx="1026.8" cy="248.1" r="5.4" fill="#9b8878"/>
<rect x="1001.1" y="243" width="19.2" height="6.9" fill="#1c1a17" rx="3.45"/>
<circle cx="1009.7" cy="242.1" r="5.4" fill="#1c1a17"/>
<circle cx="1015.3" cy="244.7" r="3.6" fill="#1c1a17"/>
<circle cx="1017.3" cy="372.9" r="22.1" fill="none" stroke="#1c1a17" stroke-width="1.1"/>
<rect x="1006.3" y="373.1" width="27.8" height="9.8" fill="#9b8878" rx="4.9"/>
<circle cx="1017.8" cy="371.5" r="7.6" fill="#9b8878"/>
<circle cx="1026.6" cy="374.9" r="5.4" fill="#9b8878"/>
<rect x="1000.9" y="369.8" width="19.2" height="6.9" fill="#1c1a17" rx="3.45"/>
<circle cx="1009.5" cy="368.9" r="5.4" fill="#1c1a17"/>
<circle cx="1015.1" cy="371.5" r="3.6" fill="#1c1a17"/>
<text transform="translate(1092.81,81.9) scale(0.8918,1)" font-size="16.5" font-weight="bold" fill="#1d1d1f" stroke="#1d1d1f" stroke-width="0.25">IL RECUPERO DI PRODUTTIVITÀ</text>
<text transform="translate(1092.84,101.8) scale(0.8631,1)" font-size="16.5" font-weight="bold" fill="#1d1d1f" stroke="#1d1d1f" stroke-width="0.25">DELLA MOBILE ENTERPRISE</text>
<text transform="translate(1092.4,123) scale(0.9935,1)" font-size="15.2" font-weight="normal" fill="#1d1d1f" stroke="#1d1d1f" stroke-width="0.3">In euro</text>
<g transform="translate(1094.1,142.05) scale(1.9425,1.9500)"><g transform="translate(0,0)"><path d="M2.45,0 H5.4 V24 H2.45 V2.7 L0,4.9 V2.6 Z" fill="#cd2010" fill-rule="evenodd"/></g><g transform="translate(7.3,0)"><g transform="scale(1.15,1)" fill="none" stroke="#cd2010" stroke-width="2.3" stroke-linejoin="miter" stroke-miterlimit="10"><path d="M1.15,6.8 V4.88 A3.24,3.73 0 0 1 7.63,4.88 V9.1 A2.26,2.6 0 0 1 5.37,11.7 H2.96"/><path d="M5.37,11.7 A2.26,2.6 0 0 1 7.63,14.3 V19.12 A3.24,3.73 0 0 1 1.15,19.12 V16.6"/></g></g></g>
<g transform="translate(1140.3,142.05) scale(1.9590,1.9500)"><g transform="translate(0,0)"><g transform="scale(1.15,1)" fill="none" stroke="#cd2010" stroke-width="2.3" stroke-linejoin="miter" stroke-miterlimit="10"><path d="M1.15,24 V5.74"/><path d="M1.15,11.49 V9.99 A2.82,3.1 0 0 1 6.78,9.99 V24"/><path d="M6.78,11.49 V9.99 A2.82,3.1 0 0 1 12.42,9.99 V24"/></g></g><g transform="translate(17.45,0)"><g transform="scale(1.15,1)" fill="none" stroke="#cd2010" stroke-width="2.3" stroke-linejoin="miter" stroke-miterlimit="10"><path d="M1.15,24 V5.74"/></g><path d="M0,0.65 H2.65 V3.35 H0 Z" fill="#cd2010" fill-rule="evenodd"/></g><g transform="translate(22.8,0)"><g transform="scale(1.15,1)" fill="none" stroke="#cd2010" stroke-width="2.3" stroke-linejoin="miter" stroke-miterlimit="10"><path d="M1.15,24 V-0.4"/></g></g><g transform="translate(28.15,0)"><g transform="scale(1.15,1)" fill="none" stroke="#cd2010" stroke-width="2.3" stroke-linejoin="miter" stroke-miterlimit="10"><path d="M1.15,24 V5.74"/></g><path d="M0,0.65 H2.65 V3.35 H0 Z" fill="#cd2010" fill-rule="evenodd"/></g><g transform="translate(33.1,0)"><g transform="scale(1.15,1)" fill="none" stroke="#cd2010" stroke-width="2.3" stroke-linejoin="miter" stroke-miterlimit="10"><path d="M1.15,10.39 A2.76,3.5 0 0 1 6.68,10.39 V19.35 A2.76,3.5 0 0 1 1.15,19.35 Z"/></g></g><g transform="translate(44.4,0)"><g transform="scale(1.15,1)" fill="none" stroke="#cd2010" stroke-width="2.3" stroke-linejoin="miter" stroke-miterlimit="10"><path d="M1.15,24 V5.74"/><path d="M1.15,11.69 V10.19 A2.85,3.3 0 0 1 6.85,10.19 V24"/></g></g><g transform="translate(55.9,0)"><g transform="scale(1.15,1)" fill="none" stroke="#cd2010" stroke-width="2.3" stroke-linejoin="miter" stroke-miterlimit="10"><path d="M1.15,24 V5.74"/></g><path d="M0,0.65 H2.65 V3.35 H0 Z" fill="#cd2010" fill-rule="evenodd"/></g></g>
<text transform="translate(1092.45,211.3) scale(0.9581,1)" font-size="15.2" font-weight="normal" fill="#1d1d1f" stroke="#1d1d1f" stroke-width="0.3">I mobile workers nel nostro Paese</text>
<rect x="1093" y="231" width="374" height="1" fill="#1c1a17"/>
<g transform="translate(1095.9,253.05) scale(1.8819,1.9500)"><g transform="translate(0,0)"><g transform="scale(1.15,1)" fill="none" stroke="#cd2010" stroke-width="2.3" stroke-linejoin="miter" stroke-miterlimit="10"><path d="M1.15,8.9 V5.03 A3.37,3.88 0 0 1 7.89,5.03 V8.2 L1.15,20.2 V22.85 H9.04"/></g></g><g transform="translate(12.1,0)"><g transform="scale(1.15,1)" fill="none" stroke="#cd2010" stroke-width="2.3" stroke-linejoin="miter" stroke-miterlimit="10"><path d="M8.17,1.15 H1.15 V10.6 H4.03 A3.2,3.49 0 0 1 7.55,14.09 V19.17 A3.2,3.68 0 0 1 1.15,19.17 V16.6"/></g></g><g transform="translate(24.2,0)"><g transform="scale(1.15,1)" fill="none" stroke="#cd2010" stroke-width="2.3" stroke-linejoin="miter" stroke-miterlimit="10"><path d="M1.06,4.15 A1.99,3 0 0 1 5.03,4.15 V10.45 A1.99,3 0 0 1 1.06,10.45 Z"/><path d="M7.06,13.55 A1.99,3 0 0 1 11.03,13.55 V19.85 A1.99,3 0 0 1 7.06,19.85 Z"/></g><path d="M9.9,0 H12.15 L4.05,24 H1.8 Z" fill="#cd2010" fill-rule="evenodd"/></g></g>
<text transform="translate(1092.58,323.6) scale(0.9732,1)" font-size="15.2" font-weight="normal" fill="#1d1d1f" stroke="#1d1d1f" stroke-width="0.3">La diffusione media delle soluzioni mobile nel 2014</text>
<rect x="1093" y="343" width="374" height="1" fill="#1c1a17"/>
<g transform="translate(1095.9,364.05) scale(1.8235,1.9500)"><g transform="translate(0,0)"><g transform="rotate(180 5.1 12)"><g transform="scale(1.15,1)" fill="none" stroke="#cd2010" stroke-width="2.3" stroke-linejoin="miter" stroke-miterlimit="10"><path d="M7.72,8 V4.93 A3.28,3.78 0 0 0 1.15,4.93 V19.07 A3.28,3.78 0 0 0 7.72,19.07 V14.7 A3.12,3.4 0 0 0 4.6,11.3 H1.15"/></g></g></g></g>
<g transform="translate(1126.9,364.05) scale(1.9662,1.9500)"><g transform="translate(0,0)"><g transform="scale(1.15,1)" fill="none" stroke="#cd2010" stroke-width="2.3" stroke-linejoin="miter" stroke-miterlimit="10"><path d="M1.15,24 V5.74"/><path d="M1.15,11.49 V9.99 A2.82,3.1 0 0 1 6.78,9.99 V24"/><path d="M6.78,11.49 V9.99 A2.82,3.1 0 0 1 12.42,9.99 V24"/></g></g><g transform="translate(17.45,0)"><g transform="scale(1.15,1)" fill="none" stroke="#cd2010" stroke-width="2.3" stroke-linejoin="miter" stroke-miterlimit="10"><path d="M1.15,24 V5.74"/></g><path d="M0,0.65 H2.65 V3.35 H0 Z" fill="#cd2010" fill-rule="evenodd"/></g><g transform="translate(22.8,0)"><g transform="scale(1.15,1)" fill="none" stroke="#cd2010" stroke-width="2.3" stroke-linejoin="miter" stroke-miterlimit="10"><path d="M1.15,24 V-0.4"/></g></g><g transform="translate(28.15,0)"><g transform="scale(1.15,1)" fill="none" stroke="#cd2010" stroke-width="2.3" stroke-linejoin="miter" stroke-miterlimit="10"><path d="M1.15,24 V5.74"/></g><path d="M0,0.65 H2.65 V3.35 H0 Z" fill="#cd2010" fill-rule="evenodd"/></g><g transform="translate(33.1,0)"><g transform="scale(1.15,1)" fill="none" stroke="#cd2010" stroke-width="2.3" stroke-linejoin="miter" stroke-miterlimit="10"><path d="M6.5,24 V10.29 A2.68,3.4 0 0 0 1.15,10.29 V12"/><path d="M6.5,12.9 L1.15,15.9 V19.45 A2.68,3.4 0 0 0 6.5,19.45"/></g></g><g transform="translate(44.2,0)"><g transform="scale(1.15,1)" fill="none" stroke="#cd2010" stroke-width="2.3" stroke-linejoin="miter" stroke-miterlimit="10"><path d="M1.15,24 V5.74"/><path d="M1.15,10.29 A3.04,3.4 0 0 1 4.19,7.04 H4.35"/></g></g><g transform="translate(51,0)"><g transform="scale(1.15,1)" fill="none" stroke="#cd2010" stroke-width="2.3" stroke-linejoin="miter" stroke-miterlimit="10"><path d="M6.85,24 V0"/><path d="M6.85,10.39 A2.85,3.5 0 0 0 1.15,10.39 V19.35 A2.85,3.5 0 0 0 6.85,19.35"/></g></g><g transform="translate(62.5,0)"><g transform="scale(1.15,1)" fill="none" stroke="#cd2010" stroke-width="2.3" stroke-linejoin="miter" stroke-miterlimit="10"><path d="M1.15,24 V5.74"/></g><path d="M0,0.65 H2.65 V3.35 H0 Z" fill="#cd2010" fill-rule="evenodd"/></g></g>
<text transform="translate(1092.42,434.1) scale(0.9804,1)" font-size="15.2" font-weight="normal" fill="#1d1d1f" stroke="#1d1d1f" stroke-width="0.3">Il recupero di produttività per il sistema Paese</text>
<text transform="translate(1092.82,509.3) scale(0.8801,1)" font-size="16.5" font-weight="bold" fill="#1d1d1f" stroke="#1d1d1f" stroke-width="0.25">IL VALORE DI MERCATO E I TREND ATTESI</text>
<text transform="translate(1092.53,526.7) scale(1.0105,1)" font-size="15.2" font-weight="normal" fill="#1d1d1f" stroke="#1d1d1f" stroke-width="0.3">Dati in miliardi di euro</text>
<rect x="1093" y="538.3" width="11.8" height="11.6" fill="#a50e08"/>
<text transform="translate(1106.46,549.9) scale(0.9620,1)" font-size="14.4" font-weight="normal" fill="#3a3632" stroke="#3a3632" stroke-width="0.3">Enterprise App Store</text>
<rect x="1247.2" y="538.3" width="11.8" height="11.6" fill="#cf7b5f"/>
<text transform="translate(1260.46,549.9) scale(0.9634,1)" font-size="14.4" font-weight="normal" fill="#3a3632" stroke="#3a3632" stroke-width="0.3">Mobile Biz-App</text>
<rect x="1366.5" y="538.3" width="11.8" height="11.6" fill="#dfa088"/>
<text transform="translate(1379.66,549.9) scale(0.9635,1)" font-size="14.4" font-weight="normal" fill="#3a3632" stroke="#3a3632" stroke-width="0.3">Mobile Device</text>
<text transform="translate(1103.51,571.3) scale(1.0388,1)" font-size="10.8" font-weight="normal" fill="#1d1d1f" stroke="#1d1d1f" stroke-width="0.3">%</text>
<text transform="translate(1256.01,571.3) scale(1.0388,1)" font-size="10.8" font-weight="normal" fill="#1d1d1f" stroke="#1d1d1f" stroke-width="0.3">%</text>
<text transform="translate(1300.71,571.3) scale(1.0388,1)" font-size="10.8" font-weight="normal" fill="#1d1d1f" stroke="#1d1d1f" stroke-width="0.3">%</text>
<rect x="1093" y="574.3" width="29.8" height="31.4" fill="#dbc8b4"/>
<polygon points="1104.7,605.5 1111.1,605.5 1107.9,608.3" fill="#dbc8b4"/>
<g transform="translate(1097.7,577.8) scale(1.0000,1.0000)"><g transform="translate(0,0)"><g transform="scale(1.15,1)" fill="none" stroke="#1c1a17" stroke-width="2.3" stroke-linejoin="miter" stroke-miterlimit="10"><path d="M7.72,8 V4.93 A3.28,3.78 0 0 0 1.15,4.93 V19.07 A3.28,3.78 0 0 0 7.72,19.07 V14.7 A3.12,3.4 0 0 0 4.6,11.3 H1.15"/></g></g><g transform="translate(11.9,0)"><path d="M0,0 H8.9 V2.5 L4.1,24 H1.3 L6,2.6 H0 Z" fill="#1c1a17" fill-rule="evenodd"/></g></g>
<rect x="1246.1" y="574.3" width="29.8" height="31.4" fill="#dbc8b4"/>
<polygon points="1257.8,605.5 1264.2,605.5 1261,608.3" fill="#dbc8b4"/>
<g transform="translate(1250.15,577.8) scale(1.0000,1.0000)"><g transform="translate(0,0)"><g transform="scale(1.15,1)" fill="none" stroke="#1c1a17" stroke-width="2.3" stroke-linejoin="miter" stroke-miterlimit="10"><path d="M1.15,8.9 V5.03 A3.37,3.88 0 0 1 7.89,5.03 V8.2 L1.15,20.2 V22.85 H9.04"/></g></g><g transform="translate(12.1,0)"><g transform="scale(1.15,1)" fill="none" stroke="#1c1a17" stroke-width="2.3" stroke-linejoin="miter" stroke-miterlimit="10"><path d="M8.17,1.15 H1.15 V10.6 H4.03 A3.2,3.49 0 0 1 7.55,14.09 V19.17 A3.2,3.68 0 0 1 1.15,19.17 V16.6"/></g></g></g>
<rect x="1291.4" y="574.3" width="29.6" height="31.4" fill="#dbc8b4"/>
<polygon points="1303,605.5 1309.4,605.5 1306.2,608.3" fill="#dbc8b4"/>
<g transform="translate(1301.2,577.8) scale(1.0000,1.0000)"><g transform="translate(0,0)"><g transform="scale(1.15,1)" fill="none" stroke="#1c1a17" stroke-width="2.3" stroke-linejoin="miter" stroke-miterlimit="10"><path d="M1.37,4.78 A3.15,3.63 0 0 1 7.68,4.78 V8.88 A3.15,2.72 0 0 1 1.37,8.88 Z"/><path d="M1.15,14.51 A3.37,2.91 0 0 1 7.89,14.51 V18.97 A3.37,3.88 0 0 1 1.15,18.97 Z"/></g></g></g>
<rect x="1093" y="614.1" width="151.8" height="32.6" fill="#a50e08"/>
<rect x="1247.2" y="614.1" width="54.5" height="32.6" fill="#cf7b5f"/>
<rect x="1304.1" y="614.1" width="16.8" height="32.6" fill="#dfa088"/>
<text transform="translate(1101.27,635.7) scale(1.0349,1)" font-size="14.5" font-weight="bold" fill="#fbeee2" stroke="#fbeee2" stroke-width="0.25">2013</text>
<g transform="translate(1326,618.1) scale(0.9833,0.9833)"><g transform="translate(0,0)"><path d="M2.45,0 H5.4 V24 H2.45 V2.7 L0,4.9 V2.6 Z" fill="#1c1a17" fill-rule="evenodd"/></g><g transform="translate(7.3,0)"><path d="M0.5,20.9 H3.2 V24.2 L1.5,27 H0.3 L1.3,24 H0.5 Z" fill="#1c1a17" fill-rule="evenodd"/></g><g transform="translate(12.1,0)"><g transform="scale(1.15,1)" fill="none" stroke="#1c1a17" stroke-width="2.3" stroke-linejoin="miter" stroke-miterlimit="10"><path d="M1.37,4.78 A3.15,3.63 0 0 1 7.68,4.78 V8.88 A3.15,2.72 0 0 1 1.37,8.88 Z"/><path d="M1.15,14.51 A3.37,2.91 0 0 1 7.89,14.51 V18.97 A3.37,3.88 0 0 1 1.15,18.97 Z"/></g></g></g>
<rect x="1093" y="688.1" width="253.9" height="32.7" fill="#cd2010"/>
<text transform="translate(1101.28,709.7) scale(1.0207,1)" font-size="14.5" font-weight="bold" fill="#fbeee2" stroke="#fbeee2" stroke-width="0.25">2014</text>
<g transform="translate(1352.3,692.1) scale(0.9833,0.9833)"><g transform="translate(0,0)"><g transform="scale(1.15,1)" fill="none" stroke="#1c1a17" stroke-width="2.3" stroke-linejoin="miter" stroke-miterlimit="10"><path d="M1.15,8.9 V5.03 A3.37,3.88 0 0 1 7.89,5.03 V8.2 L1.15,20.2 V22.85 H9.04"/></g></g><g transform="translate(11.2,0)"><path d="M0.5,20.9 H3.2 V24.2 L1.5,27 H0.3 L1.3,24 H0.5 Z" fill="#1c1a17" fill-rule="evenodd"/></g><g transform="translate(16,0)"><g transform="scale(1.15,1)" fill="none" stroke="#1c1a17" stroke-width="2.3" stroke-linejoin="miter" stroke-miterlimit="10"><path d="M1.15,5.13 A3.46,3.98 0 0 1 8.07,5.13 V18.87 A3.46,3.98 0 0 1 1.15,18.87 Z"/></g></g></g>
<rect x="1093" y="761.9" width="291.9" height="32.7" fill="#cd2010"/>
<text transform="translate(1101.28,783.5) scale(1.0313,1)" font-size="14.5" font-weight="bold" fill="#fbeee2" stroke="#fbeee2" stroke-width="0.25">2015</text>
<g transform="translate(1390.3,765.9) scale(0.9833,0.9833)"><g transform="translate(0,0)"><g transform="scale(1.15,1)" fill="none" stroke="#1c1a17" stroke-width="2.3" stroke-linejoin="miter" stroke-miterlimit="10"><path d="M1.15,8.9 V5.03 A3.37,3.88 0 0 1 7.89,5.03 V8.2 L1.15,20.2 V22.85 H9.04"/></g></g><g transform="translate(11.2,0)"><path d="M0.5,20.9 H3.2 V24.2 L1.5,27 H0.3 L1.3,24 H0.5 Z" fill="#1c1a17" fill-rule="evenodd"/></g><g transform="translate(16,0)"><g transform="scale(1.15,1)" fill="none" stroke="#1c1a17" stroke-width="2.3" stroke-linejoin="miter" stroke-miterlimit="10"><path d="M1.15,6.8 V4.88 A3.24,3.73 0 0 1 7.63,4.88 V9.1 A2.26,2.6 0 0 1 5.37,11.7 H2.96"/><path d="M5.37,11.7 A2.26,2.6 0 0 1 7.63,14.3 V19.12 A3.24,3.73 0 0 1 1.15,19.12 V16.6"/></g></g></g>
<rect x="1093" y="835.9" width="342" height="32.7" fill="#cd2010"/>
<text transform="translate(1101.27,857.5) scale(1.0349,1)" font-size="14.5" font-weight="bold" fill="#fbeee2" stroke="#fbeee2" stroke-width="0.25">2016</text>
<g transform="translate(1440.4,839.9) scale(0.9833,0.9833)"><g transform="translate(0,0)"><g transform="scale(1.15,1)" fill="none" stroke="#1c1a17" stroke-width="2.3" stroke-linejoin="miter" stroke-miterlimit="10"><path d="M1.15,8.9 V5.03 A3.37,3.88 0 0 1 7.89,5.03 V8.2 L1.15,20.2 V22.85 H9.04"/></g></g><g transform="translate(11.2,0)"><path d="M0.5,20.9 H3.2 V24.2 L1.5,27 H0.3 L1.3,24 H0.5 Z" fill="#1c1a17" fill-rule="evenodd"/></g><g transform="translate(16,0)"><path d="M0,0 H8.9 V2.5 L4.1,24 H1.3 L6,2.6 H0 Z" fill="#1c1a17" fill-rule="evenodd"/></g></g>
<rect x="1093" y="668" width="374" height="1" fill="#1c1a17"/>
<rect x="1093" y="742" width="374" height="1" fill="#1c1a17"/>
<rect x="1093" y="816" width="374" height="1" fill="#1c1a17"/>
</svg>
</body></html>
